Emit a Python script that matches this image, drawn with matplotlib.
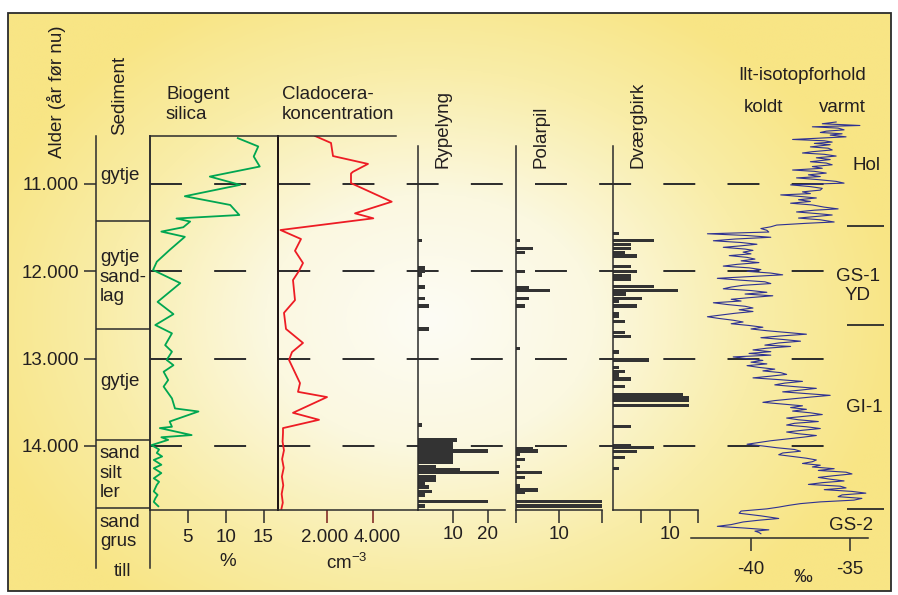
import numpy as np
import matplotlib.pyplot as plt
from matplotlib.colors import LinearSegmentedColormap
from matplotlib.patches import Rectangle
from matplotlib.transforms import ScaledTranslation

plt.rcParams['font.family'] = ['Liberation Sans', 'DejaVu Sans']
plt.rcParams['lines.scale_dashes'] = False
plt.rcParams['axes.unicode_minus'] = False

# ---------------- data (ages in years before present) ----------------
age_ticks = [11000, 12000, 13000, 14000]
age_labels = ['11.000', '12.000', '13.000', '14.000']

sed_bounds = [11425, 12660, 13930, 14710, 15260]
sed_labels = ['gytje', 'gytje\nsand-\nlag', 'gytje', 'sand\nsilt\nler', 'sand\ngrus', 'till']

bio_age = [10475, 10570, 10685, 10800, 10915, 11010, 11140, 11240, 11355, 11395,
           11430, 11495, 11545, 11605, 11755, 11890, 11985, 12135, 12350, 12490,
           12615, 12710, 12845, 12920, 13015, 13075, 13150, 13245, 13320, 13455,
           13570, 13605, 13720, 13780, 13795, 13875, 13900, 13930, 13990, 14040,
           14080, 14120, 14160, 14215, 14255, 14310, 14370, 14410, 14445, 14520,
           14560, 14600, 14640, 14690]
bio_val = [11.6, 14.3, 13.7, 14.5, 7.9, 11.9, 4.6, 10.6, 11.8, 3.5,
           5.3, 4.4, 1.5, 4.6, 2.6, 0.9, 0.4, 4.0, 1.0, 3.1,
           0.7, 2.9, 2.0, 2.9, 2.2, 3.1, 1.8, 2.4, 1.8, 2.9,
           3.3, 6.4, 2.6, 2.9, 1.3, 5.5, 1.5, 2.4, 0.2, 1.2,
           0.9, 1.6, 0.5, 1.5, 0.5, 1.5, 0.5, 1.2, 0.9, 0.5,
           1.0, 0.7, 0.5, 1.1]

clad_age = [10450, 10530, 10680, 10770, 10860, 10880, 10990, 11203, 11336, 11393,
            11527, 11630, 11765, 11905, 11995, 12100, 12330, 12475, 12660, 12820,
            12925, 13015, 13280, 13380, 13440, 13620, 13700, 13795, 13850, 13950,
            14050, 14150, 14250, 14350, 14450, 14550, 14650, 14720]
clad_val = [1500, 2196, 2283, 3804, 3152, 3065, 3065, 4835, 3240, 4036,
            0, 891, 630, 978, 804, 543, 630, 152, 239, 978,
            500, 370, 848, 761, 2022, 543, 1674, 109, 109, 90,
            150, 70, 140, 60, 120, 50, 100, 40]

ryp_age = [11649, 11958, 11996, 12042, 12180, 12313, 12397, 12660, 13760, 13931,
           13977, 14023, 14057, 14103, 14149, 14183, 14240, 14275, 14306, 14351,
           14389, 14424, 14469, 14523, 14561, 14638, 14687]
ryp_val = [1.2, 2, 2, 1, 2, 2, 3, 3, 1, 11,
           10, 10, 20, 10, 10, 10, 5, 12, 23, 5,
           5, 2, 3, 4, 2, 20, 2]

pol_age = [11649, 11741, 11782, 12004, 12183, 12217, 12313, 12397, 12881, 14026,
           14057, 14092, 14152, 14237, 14306, 14363, 14458, 14504, 14535, 14638,
           14687]
pol_val = [1, 4, 2, 2, 3, 8, 3, 2, 1, 4,
           5, 1, 2, 1, 6, 2, 1, 5, 2, 20,
           20]

dv_age = [11564, 11649, 11690, 11736, 11782, 11824, 11947, 12004, 12053, 12091,
          12176, 12217, 12260, 12313, 12348, 12397, 12481, 12520, 12577, 12703,
          12749, 12924, 13015, 13099, 13149, 13187, 13233, 13321, 13408, 13442,
          13473, 13538, 13779, 14000, 14019, 14065, 14129, 14255]
dv_val = [1.1, 7.3, 3.2, 3.2, 2.2, 4.2, 3.2, 4.2, 3.2, 3.2,
          7.3, 11.4, 2.3, 5.2, 1.1, 4.2, 1.1, 1.1, 2.2, 2.2,
          3.2, 1.1, 6.3, 1.1, 2.2, 1.1, 3.2, 2.2, 12.4, 13.4,
          13.4, 13.4, 3.2, 3.2, 7.3, 4.2, 2.2, 1.1]

# delta-18O (permil)
iso_age = [10290, 10310, 10330, 10345, 10360, 10380, 10395, 10410, 10425, 10440,
           10460, 10475, 10490, 10505, 10520, 10535, 10550, 10575, 10590, 10610,
           10630, 10645, 10660, 10680, 10700, 10720, 10745, 10760, 10780, 10800,
           10820, 10840, 10855, 10875, 10895, 10915, 10930, 10950, 10970, 10990,
           11010, 11030, 11050, 11070, 11090, 11110, 11125, 11145, 11160, 11180,
           11200, 11220, 11240, 11265, 11285, 11300, 11320, 11340, 11355, 11375,
           11390, 11410, 11435, 11450, 11470, 11490, 11510, 11530, 11550, 11570,
           11590, 11610, 11630, 11650, 11670, 11690, 11710, 11725, 11745, 11760,
           11780, 11800, 11820, 11840, 11860, 11880, 11900, 11920, 11940, 11960,
           11980, 12000, 12020, 12040, 12060, 12080, 12100, 12120, 12140, 12160,
           12180, 12200, 12220, 12240, 12260, 12280, 12300, 12320, 12340, 12360,
           12380, 12400, 12420, 12440, 12460, 12480, 12500, 12520, 12540, 12560,
           12580, 12600, 12620, 12640, 12660, 12680, 12700, 12720, 12740, 12760,
           12780, 12800, 12820, 12845, 12860, 12880, 12900, 12920, 12940, 12960,
           12980, 13000, 13020, 13040, 13060, 13080, 13100, 13120, 13140, 13160,
           13180, 13200, 13220, 13240, 13260, 13280, 13300, 13320, 13340, 13360,
           13380, 13400, 13420, 13440, 13460, 13480, 13500, 13520, 13540, 13560,
           13580, 13600, 13620, 13640, 13660, 13680, 13700, 13720, 13740, 13760,
           13780, 13800, 13820, 13840, 13860, 13880, 13900, 13920, 13940, 13960,
           13980, 14000, 14020, 14040, 14060, 14080, 14100, 14120, 14140, 14160,
           14180, 14200, 14220, 14240, 14260, 14280, 14300, 14320, 14340, 14360,
           14380, 14400, 14420, 14440, 14460, 14480, 14500, 14520, 14540, 14560,
           14580, 14600, 14620, 14640, 14660, 14680, 14700, 14720, 14745, 14770,
           14800, 14830, 14850, 14870, 14900, 14920, 14940, 14960, 14975, 14990,
           15005]
iso_val = [-35.7, -36.4, -34.5, -36.9, -35.6, -35.3, -36.2, -36.5, -35.4, -36.0,
           -35.2, -36.6, -37.9, -36.3, -35.9, -36.8, -36.0, -37.0, -36.1, -35.9,
           -36.9, -37.4, -36.3, -35.7, -36.7, -36.0, -37.0, -36.2, -35.9, -36.9,
           -36.4, -37.9, -36.8, -36.2, -37.1, -36.5, -37.7, -36.6, -35.7, -35.3,
           -38.0, -37.0, -36.4, -36.5, -37.4, -37.0, -38.5, -37.4, -36.7, -37.6,
           -37.0, -38.0, -36.9, -36.3, -35.6, -36.8, -37.7, -36.6, -35.9, -36.9,
           -37.6, -36.5, -35.8, -37.2, -38.7, -39.0, -39.5, -39.2, -39.1, -42.2,
           -40.2, -39.0, -40.8, -41.9, -40.5, -39.7, -40.6, -41.4, -40.3, -39.9,
           -40.4, -40.0, -41.1, -40.2, -39.8, -40.5, -39.6, -40.7, -41.4, -40.1,
           -39.5, -40.2, -39.0, -38.4, -40.0, -41.7, -40.6, -39.3, -39.0, -40.4,
           -41.0, -41.4, -40.0, -39.2, -40.3, -38.9, -40.0, -41.0, -40.5, -41.9,
           -41.2, -40.3, -39.9, -40.6, -39.9, -40.8, -41.5, -42.2, -41.6, -40.9,
           -40.4, -41.0, -40.1, -39.4, -40.0, -39.2, -38.2, -37.2, -38.5, -39.5,
           -38.4, -37.5, -38.6, -39.3, -38.0, -39.2, -39.9, -39.0, -40.1, -39.0,
           -40.9, -40.2, -39.4, -40.0, -39.2, -40.2, -39.6, -38.8, -39.4, -38.5,
           -38.2, -39.0, -39.9, -38.6, -37.4, -38.3, -38.8, -37.8, -36.7, -37.5,
           -38.4, -37.2, -36.0, -37.0, -37.9, -38.8, -39.4, -38.4, -37.4, -38.0,
           -37.2, -37.9, -37.0, -36.4, -37.3, -38.2, -37.6, -36.6, -37.8, -38.2,
           -37.2, -36.5, -37.4, -38.2, -37.6, -36.7, -37.4, -38.2, -39.0, -39.6,
           -40.2, -39.4, -38.7, -37.8, -37.5, -38.4, -38.6, -37.9, -37.2, -36.7,
           -36.9, -37.4, -36.5, -36.9, -35.8, -36.6, -35.2, -34.9, -35.8, -36.6,
           -36.0, -35.3, -36.4, -37.1, -35.5, -35.2, -36.3, -34.9, -34.2, -35.4,
           -35.6, -34.4, -34.8, -36.5, -37.5, -38.1, -38.6, -39.2, -40.5, -40.6,
           -39.5, -38.6, -39.6, -40.4, -41.0, -41.7, -40.3, -39.1, -39.8, -39.6,
           -39.5]

zone_bounds = [11481, 12615, 14722]

# ---------------- layout helpers (pixel boxes) ----------------
W, H = 898, 595
PX_KYR = 87.33   # pixels per 1000 yr
Y11 = 184        # pixel row of 11.000

def age_at(yp):
    return 11000 + (yp - Y11) / PX_KYR * 1000

def ypix(a):
    return Y11 + (a - 11000) * PX_KYR / 1000

INK = '#2b2b2b'
TXT = '#231f20'
FS = 13.5
LW = 1.1

fig = plt.figure(figsize=(W / 100, H / 100), dpi=100)

def add_ax(x0, x1, y0, y1):
    ax = fig.add_axes([x0 / W, 1 - y1 / H, (x1 - x0) / W, (y1 - y0) / H])
    ax.set_facecolor('none')
    ax.set_ylim(age_at(y1), age_at(y0))
    for s in ax.spines.values():
        s.set_color(INK)
        s.set_linewidth(LW)
    ax.tick_params(colors=INK, labelcolor=TXT, labelsize=FS, width=LW)
    ax.set_yticks([])
    return ax

# background
bg = fig.add_axes([0, 0, 1, 1], zorder=-5)
bg.set_xlim(0, W)
bg.set_ylim(H, 0)
bg.axis('off')
fx0, fx1, fy0, fy1 = 8, 891, 13, 591
xx, yy = np.meshgrid(np.linspace(fx0, fx1, 300), np.linspace(fy0, fy1, 200))
r = np.sqrt(((xx - 430) / 470) ** 2 + ((yy - 320) / 360) ** 2)
cmap = LinearSegmentedColormap.from_list(
    'bgc', [(0, '#fdfcf5'), (0.35, '#fbf8e0'), (0.7, '#f9eda8'), (1, '#f8e585')])
bg.imshow(np.clip(r, 0, 1), cmap=cmap, extent=(fx0, fx1, fy1, fy0), aspect='auto',
          interpolation='bilinear')
bg.add_patch(Rectangle((fx0, fy0), fx1 - fx0, fy1 - fy0, fill=False, ec=INK, lw=1.3))

# dashed age lines and zone boundaries
bg.hlines([ypix(a) for a in age_ticks], 150, 824, color=INK, lw=1.4,
          linestyle=(0, (23.0, 23.2)))
bg.hlines([ypix(a) for a in zone_bounds], 847, 884, color=INK, lw=1.3)

# sediment column
ax_sed = add_ax(96, 150, 136, 568)
ax_sed.spines['top'].set_visible(False)
ax_sed.spines['bottom'].set_visible(False)
ax_sed.set_xticks([])
ax_sed.set_yticks(age_ticks)
ax_sed.set_yticklabels(age_labels)
ax_sed.tick_params(axis='y', length=8.8, pad=3.5)
for b in sed_bounds[:-1]:
    ax_sed.axhline(b, color=INK, lw=LW)
sed_y = [176, 277, 382, 473, 532, 571]
for lab, yp in zip(sed_labels, sed_y):
    if lab == 'till':
        bg.text(123, yp, lab, ha='center', va='center', fontsize=FS, color=TXT)
    else:
        bg.text(100, yp, lab, ha='left', va='center', fontsize=FS, color=TXT,
                linespacing=1.18)

# biogenic silica
ax_bio = add_ax(150, 278, 136, 510)
ax_bio.set_xlim(0, 128 / 7.57)
ax_bio.plot(bio_val, bio_age, color='#00a651', lw=1.3)
ax_bio.set_xticks([5, 10, 15])
ax_bio.tick_params(axis='x', length=9.4, pad=4.3)

# cladocera
ax_cl = add_ax(278, 418, 136, 510)
c0 = -2.5 / 23 * 1000
ax_cl.set_xlim(c0, (418 - 280.5) / 23 * 1000)
ax_cl.spines['right'].set_visible(False)
ax_cl.spines['top'].set_bounds(c0, (396 - 280.5) / 23 * 1000)
ax_cl.spines['left'].set_color('#1e1414')
ax_cl.spines['left'].set_linewidth(1.4)
ax_cl.plot(clad_val, clad_age, color='#ed1c24', lw=1.3)
ax_cl.set_xticks([2000, 4000])
ax_cl.set_xticklabels(['2.000', '4.000'])
ax_cl.tick_params(axis='x', length=9.4, pad=4.3, color='#7a1c1c')
for lab, dx in zip(ax_cl.get_xticklabels(), [-2, 5]):
    lab.set_transform(lab.get_transform() + ScaledTranslation(dx / 100, 0, fig.dpi_scale_trans))

# pollen / macrofossil bar panels
def bar_panel(x0, x1, xmax, ages, vals, ticks, labels):
    ax = add_ax(x0, x1, 146, 510)
    ax.set_xlim(0, xmax)
    ax.spines['top'].set_visible(False)
    ax.spines['right'].set_visible(False)
    ax.barh(ages, vals, height=36, color='#333333', lw=0)
    ax.set_xticks(ticks)
    ax.set_xticklabels(labels)
    ax.tick_params(axis='x', length=9, pad=2.2)
    return ax

bar_panel(418, 505, 87 / 3.5, ryp_age, ryp_val, [10, 20], ['10', '20'])
bar_panel(516, 602, 20, pol_age, pol_val, [0, 10, 20], ['', '10', ''])
bar_panel(613, 698, 15, dv_age, dv_val, [5, 10, 15], ['', '10', ''])

# oxygen isotopes
ax_is = add_ax(691, 868, 115, 538)
ax_is.set_xlim(-40 - 60 / 19.8, -40 + 117 / 19.8)
for s in ['top', 'left', 'right']:
    ax_is.spines[s].set_visible(False)
ax_is.plot(iso_val, iso_age, color='#2e3192', lw=0.8)
ax_is.set_xticks([-40, -35])
ax_is.tick_params(axis='x', length=9.6, pad=7)

# titles and labels
bg.text(57, 92, 'Alder (år før nu)', rotation=90, ha='center', va='center', fontsize=FS, color=TXT)
bg.text(120, 95, 'Sediment', rotation=90, ha='center', va='center', fontsize=FS, color=TXT)
bg.text(166, 86, 'Biogent\nsilica', ha='left', va='top', fontsize=FS, color=TXT)
bg.text(282, 86, 'Cladocera-\nkoncentration', ha='left', va='top', fontsize=FS, color=TXT)
bg.text(443, 168, 'Rypelyng', rotation=90, ha='center', va='bottom', fontsize=FS, color=TXT)
bg.text(541, 168, 'Polarpil', rotation=90, ha='center', va='bottom', fontsize=FS, color=TXT)
bg.text(638, 168, 'Dværgbirk', rotation=90, ha='center', va='bottom', fontsize=FS, color=TXT)
bg.text(802, 76, 'Ilt-isotopforhold', ha='center', va='center', fontsize=FS, color=TXT)
bg.text(763, 107, 'koldt', ha='center', va='center', fontsize=FS, color=TXT)
bg.text(842, 107, 'varmt', ha='center', va='center', fontsize=FS, color=TXT)
bg.text(867, 165, 'Hol', ha='center', va='center', fontsize=FS, color=TXT)
bg.text(858, 286, 'GS-1\nYD', ha='center', va='center', fontsize=FS, color=TXT, linespacing=1.15)
bg.text(864, 407, 'GI-1', ha='center', va='center', fontsize=FS, color=TXT)
bg.text(851, 525, 'GS-2', ha='center', va='center', fontsize=FS, color=TXT)
bg.text(228, 561, '%', ha='center', va='center', fontsize=FS, color=TXT)
bg.text(347, 563, 'cm$^{\\mathregular{-3}}$', ha='center', va='center', fontsize=FS, color=TXT)
bg.text(803, 578, '‰', ha='center', va='center', fontsize=FS, color=TXT)

fig.savefig('out.png', dpi=100)
